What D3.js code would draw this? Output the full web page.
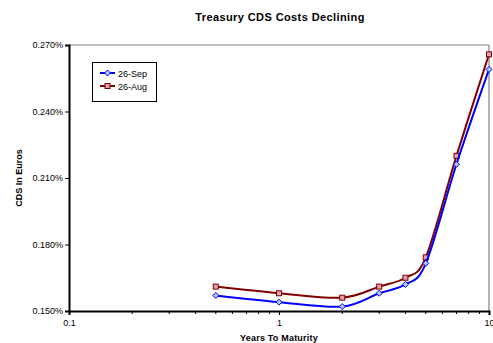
<!DOCTYPE html>
<html>
<head>
<meta charset="utf-8">
<script src="https://cdn.jsdelivr.net/npm/d3@7"></script>
<style>
  html, body { margin: 0; padding: 0; background: #fff; }
  svg { display: block; font-family: "Liberation Sans", Arial, sans-serif; }
</style>
</head>
<body>
<svg id="chart" width="493" height="343"></svg>
<script>
// Maturities (years) and CDS levels (in %)
const maturities = [0.5, 1, 2, 3, 4, 5, 7, 10];
const sep26 = [0.157, 0.154, 0.152, 0.158, 0.162, 0.1715, 0.2162, 0.259];
const aug26 = [0.161, 0.158, 0.156, 0.161, 0.165, 0.1742, 0.220, 0.2658];
const yTicks = [0.150, 0.180, 0.210, 0.240, 0.270];
const xTicks = [0.1, 1, 10];

const svg = d3.select("#chart");
const m = { left: 69, right: 489, top: 45, bottom: 311 };

const x = d3.scaleLog().domain([0.1, 10]).range([m.left, m.right]);
const y = d3.scaleLinear().domain([0.150, 0.270]).range([m.bottom, m.top]);

// Title
svg.append("text")
  .attr("x", 280).attr("y", 21)
  .attr("text-anchor", "middle")
  .attr("font-size", 11).attr("font-weight", "bold")
  .attr("letter-spacing", 0.4)
  .text("Treasury CDS Costs Declining");

// Frame: grey top/right, black left/bottom axes
svg.append("line").attr("x1", m.left).attr("x2", m.right).attr("y1", m.top).attr("y2", m.top)
  .attr("stroke", "#808080").attr("stroke-width", 1.2);
svg.append("line").attr("x1", m.right).attr("x2", m.right).attr("y1", m.top).attr("y2", m.bottom)
  .attr("stroke", "#808080").attr("stroke-width", 1.2);

// Y axis
const yAxis = d3.axisLeft(y).tickValues(yTicks).tickSize(4)
  .tickFormat(d => d.toFixed(3) + "%");
const gy = svg.append("g").attr("transform", `translate(${m.left},0)`).call(yAxis);
gy.select(".domain").attr("stroke", "#000").attr("stroke-width", 2);
gy.selectAll(".tick line").attr("stroke", "#000");
gy.selectAll(".tick text").attr("font-size", 9).attr("font-family", "Liberation Sans, Arial, sans-serif")
  .attr("fill", "#000").attr("x", -6);

// X axis (log) with minor ticks
const minor = [];
for (let p = 0.1; p < 10; p *= 10) for (let k = 2; k <= 9; k++) minor.push(+(p * k).toFixed(3));
const gx = svg.append("g").attr("transform", `translate(0,${m.bottom})`);
gx.selectAll("line.minor").data(minor).join("line").attr("class", "minor")
  .attr("x1", d => x(d)).attr("x2", d => x(d)).attr("y1", 0).attr("y2", 3)
  .attr("stroke", "#000");
const xAxis = d3.axisBottom(x).tickValues(xTicks).tickSize(4).tickFormat(d3.format(""));
gx.call(xAxis);
gx.select(".domain").attr("stroke", "#000").attr("stroke-width", 2);
gx.selectAll(".tick text").attr("font-size", 9).attr("font-family", "Liberation Sans, Arial, sans-serif")
  .attr("fill", "#000").attr("y", 9);

// Axis titles
svg.append("text")
  .attr("x", 279).attr("y", 341)
  .attr("text-anchor", "middle").attr("font-size", 9).attr("font-weight", "bold")
  .attr("letter-spacing", 0.2)
  .text("Years To Maturity");
svg.append("text")
  .attr("transform", "translate(22,178) rotate(-90)")
  .attr("text-anchor", "middle").attr("font-size", 9).attr("font-weight", "bold")
  .text("CDS In Euros");

// Series
const series = [
  { name: "26-Sep", values: sep26, color: "#0000ff", marker: "diamond" },
  { name: "26-Aug", values: aug26, color: "#800000", marker: "square" }
];

const line = d3.line()
  .x((d, i) => x(maturities[i]))
  .y(d => y(d))
  .curve(d3.curveCatmullRom.alpha(0));

function drawMarker(g, type, cx, cy, color) {
  if (type === "diamond") {
    g.append("path")
      .attr("d", `M${cx},${cy - 3}L${cx + 3},${cy}L${cx},${cy + 3}L${cx - 3},${cy}Z`)
      .attr("fill", "#b0c8ff").attr("stroke", color).attr("stroke-width", 1);
  } else {
    g.append("rect")
      .attr("x", cx - 2.5).attr("y", cy - 2.5).attr("width", 5).attr("height", 5)
      .attr("fill", "#e0a0b0").attr("stroke", color).attr("stroke-width", 1);
  }
}

// Draw Aug first so Sep is on top where they meet
[series[1], series[0]].forEach(s => {
  const g = svg.append("g");
  g.append("path").datum(s.values).attr("d", line)
    .attr("fill", "none").attr("stroke", s.color).attr("stroke-width", 2);
  s.values.forEach((v, i) => drawMarker(g, s.marker, x(maturities[i]), y(v), s.color));
});

// Legend
const lg = svg.append("g");
lg.append("rect").attr("x", 92.5).attr("y", 62.5).attr("width", 64).attr("height", 39)
  .attr("fill", "#fff").attr("stroke", "#000").attr("stroke-width", 1);
series.forEach((s, i) => {
  const ly = 73 + i * 13;
  lg.append("line").attr("x1", 100).attr("x2", 115).attr("y1", ly).attr("y2", ly)
    .attr("stroke", s.color).attr("stroke-width", 2);
  drawMarker(lg, s.marker, 107.5, ly, s.color);
  lg.append("text").attr("x", 118).attr("y", ly + 3.5).attr("font-size", 9).text(s.name);
});
</script>
</body>
</html>
